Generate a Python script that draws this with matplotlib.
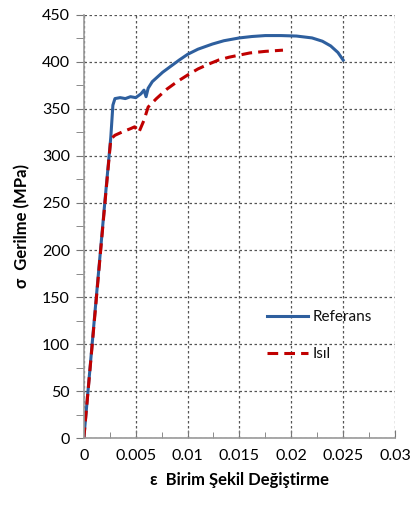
import matplotlib
matplotlib.use('Agg')
import matplotlib.pyplot as plt
from matplotlib.ticker import MultipleLocator

plt.rcParams['font.family'] = ['Lato', 'DejaVu Sans']

# Referans curve (strain, stress)
ref_strain = [0, 0.0010, 0.0020, 0.0026, 0.0028, 0.0030, 0.0035, 0.0040, 0.0045,
              0.0050, 0.0055, 0.0058, 0.0060, 0.0062, 0.0066, 0.0076, 0.0092,
              0.0100, 0.0110, 0.0124, 0.0135, 0.0150, 0.0162, 0.0175, 0.0190,
              0.0205, 0.0220, 0.0230, 0.0238, 0.0245, 0.0250]
ref_stress = [0, 125, 248, 320, 354, 361, 362, 361, 363,
              362, 366, 370, 363, 372, 379, 389, 402,
              408, 413.5, 419, 422.5, 425.5, 427, 428, 428,
              427.5, 425.5, 422, 417, 410, 402]

# Isil curve
isil_strain = [0, 0.0010, 0.0020, 0.0026, 0.0030, 0.0038, 0.0045, 0.0049, 0.0053,
               0.0058, 0.0062, 0.0070, 0.0080, 0.0090, 0.0100, 0.0110, 0.0120,
               0.0130, 0.0140, 0.0160, 0.0175, 0.0192]
isil_stress = [0, 123, 246, 318, 322, 326, 329, 331, 325,
               338, 352, 361, 371, 379, 386, 392.5, 397.5,
               402, 405, 409.5, 411.2, 412.5]

fig = plt.figure(figsize=(4.11, 5.13), dpi=100)
ax = fig.add_axes([0.204, 0.146, 0.757, 0.825])

ax.plot(ref_strain, ref_stress, color='#2E5F9E', lw=2.2, label='Referans')
ax.plot(isil_strain, isil_stress, color='#C00000', lw=2.2, ls=(0, (3.5, 2)), label='Isıl')

ax.set_xlim(0, 0.03)
ax.set_ylim(0, 450)
ax.xaxis.set_minor_locator(MultipleLocator(0.0025))
ax.yaxis.set_major_locator(MultipleLocator(50))
ax.yaxis.set_minor_locator(MultipleLocator(25))
ax.set_xticks([0, 0.005, 0.01, 0.015, 0.02, 0.025, 0.03])
ax.set_xticklabels(['0', '0.005', '0.01', '0.015', '0.02', '0.025', '0.03'])

ax.grid(True, which='major', ls=(0, (2, 2)), color='#555555', lw=0.9)
for s in ['top', 'right']:
    ax.spines[s].set_visible(False)
for s in ['left', 'bottom']:
    ax.spines[s].set_color('#999999')
    ax.spines[s].set_linewidth(1.2)

ax.tick_params(axis='x', which='major', direction='in', length=6, color='#777777',
               labelsize=11.5, pad=8)
ax.tick_params(axis='x', which='minor', direction='in', length=4, color='#777777')
ax.tick_params(axis='y', which='major', direction='out', length=6, color='#777777',
               labelsize=11.5, pad=4)
ax.tick_params(axis='y', which='minor', direction='out', length=6, color='#777777')

ax.set_xlabel('ε  Birim Şekil Değiştirme', fontsize=12, fontweight='bold', labelpad=6)
ax.set_ylabel('σ  Gerilme (MPa)', fontsize=12, fontweight='bold', labelpad=8)

leg = ax.legend(loc='upper left', bbox_to_anchor=(0.545, 0.335), frameon=False,
                fontsize=11, handlelength=2.7, labelspacing=1.5, handletextpad=0.3)
for t in leg.get_texts():
    t.set_color('#111111')

fig.savefig('out.png', dpi=100, facecolor='white')
